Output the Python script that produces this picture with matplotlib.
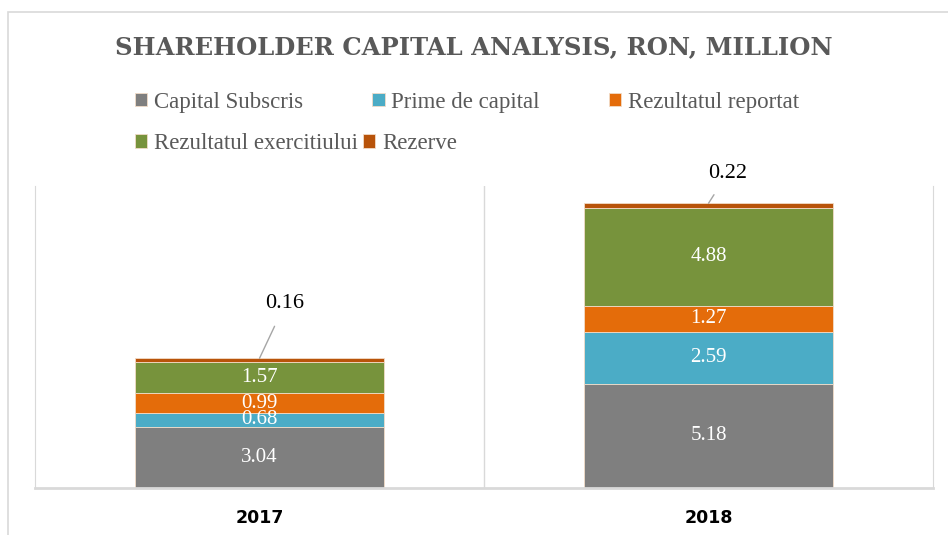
import numpy as np
import matplotlib
matplotlib.use('Agg')
import matplotlib.pyplot as plt
from matplotlib.patches import Rectangle

years = ['2017', '2018']
series_names = ['Capital Subscris', 'Prime de capital', 'Rezultatul reportat',
                'Rezultatul exercitiului', 'Rezerve']
capital_subscris = [3.04, 5.18]
prime_de_capital = [0.68, 2.59]
rezultatul_reportat = [0.99, 1.27]
rezultatul_exercitiului = [1.57, 4.88]
rezerve = [0.16, 0.22]

colors = ['#7F7F7F', '#4BACC6', '#E46C0A', '#77933C', '#B8530A']

plt.rcParams['font.family'] = ['Liberation Serif', 'DejaVu Serif']

fig = plt.figure(figsize=(9.48, 5.35), dpi=100)
fig.patches.append(Rectangle((0.0084, -0.1), 1.1, 1.0776, transform=fig.transFigure,
                             fill=False, edgecolor='#D9D9D9', linewidth=1.2))

ax = fig.add_axes([0.0369, 0.0879, 0.9473, 0.5645])

x = np.arange(len(years))
values = [capital_subscris, prime_de_capital, rezultatul_reportat,
          rezultatul_exercitiului, rezerve]
bottom = np.zeros(len(years))
bars = []
for name, vals, col in zip(series_names, values, colors):
    b = ax.bar(x, vals, 0.555, bottom=bottom, color=col, label=name,
               edgecolor='#F2DCC8', linewidth=0.6)
    bars.append(b)
    if name != 'Rezerve':
        for xi, b0, v in zip(x, bottom, vals):
            ax.text(xi, b0 + v / 2, '%.2f' % v, ha='center', va='center',
                    color='white', fontsize=15)
    bottom = bottom + np.array(vals)

# leader-line labels for the thin Rezerve segment
tops = bottom
label_off = [(0.057, 2.7), (0.043, 1.5)]
for xi, top, v, (dx, dy) in zip(x, tops, rezerve, label_off):
    ax.annotate('%.2f' % v, xy=(xi, top), xytext=(xi + dx, top + dy),
                ha='center', va='center', fontsize=16, color='black',
                arrowprops=dict(arrowstyle='-', color='#A6A6A6', lw=1,
                                shrinkA=8, shrinkB=0))

ax.set_xlim(-0.5, 1.5)
ax.set_ylim(0, 15)
ax.set_yticks([])
ax.set_xticks(x)
ax.set_xticklabels(years, fontfamily='DejaVu Sans', fontweight='bold', fontsize=12.5)
ax.tick_params(axis='x', length=0, pad=15)
ax.spines['top'].set_visible(False)
for s in ['left', 'right']:
    ax.spines[s].set_color('#D9D9D9')
ax.spines['bottom'].set_color('#D9D9D9')
ax.spines['bottom'].set_linewidth(2)
ax.axvline(0.5, color='#D9D9D9', lw=1)

fig.text(0.5, 0.912, 'SHAREHOLDER CAPITAL ANALYSIS, RON, MILLION', ha='center',
         va='center', fontsize=17.5, fontweight='bold', color='#595959',
         family=['DejaVu Serif'])

handles = [bb for bb in bars]
row1 = fig.legend(handles[:3], series_names[:3], loc='center left',
                  bbox_to_anchor=(0.142, 0.809), ncol=3, frameon=False,
                  fontsize=16.5, handlelength=0.55, handleheight=0.55,
                  handletextpad=0.3, columnspacing=3.0, borderpad=0,
                  borderaxespad=0, labelcolor='#595959')
row2 = fig.legend(handles[3:], series_names[3:], loc='center left',
                  bbox_to_anchor=(0.142, 0.732), ncol=2, frameon=False,
                  fontsize=16.5, handlelength=0.55, handleheight=0.55,
                  handletextpad=0.3, columnspacing=0.2, borderpad=0,
                  borderaxespad=0, labelcolor='#595959')

fig.savefig('out.png', dpi=100)
